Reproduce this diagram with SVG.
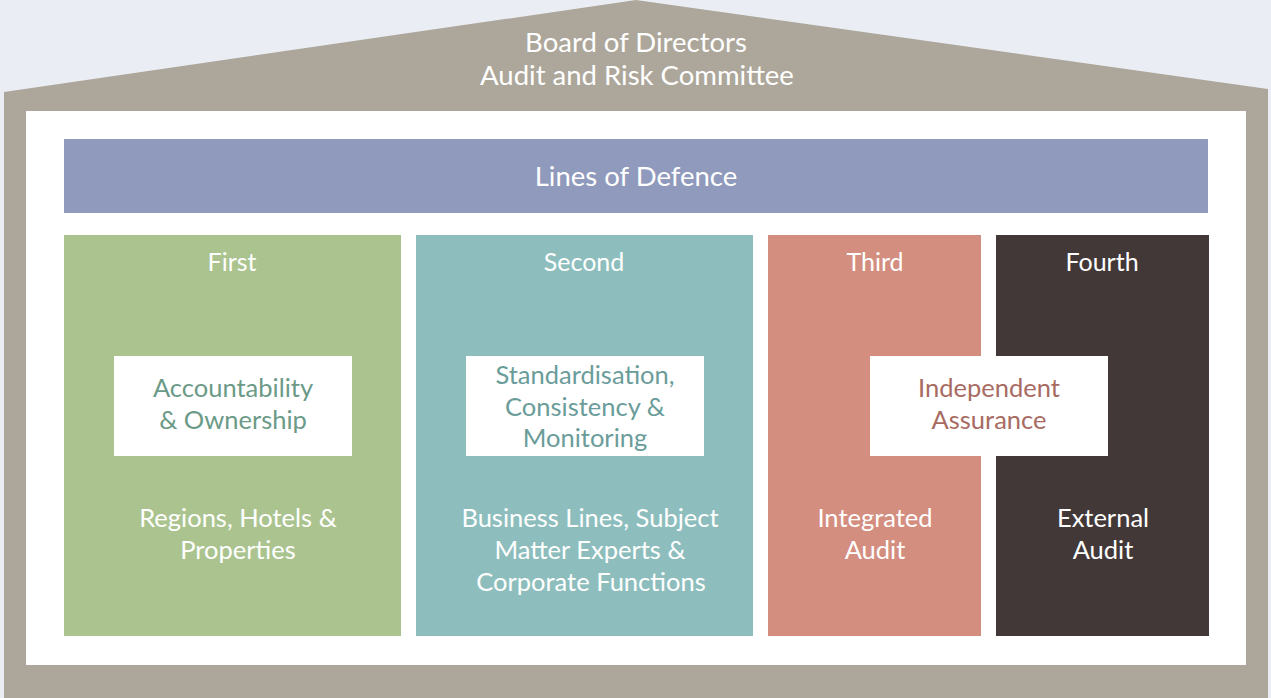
<svg xmlns="http://www.w3.org/2000/svg" width="1271" height="698" viewBox="0 0 1271 698">
  <style>
    text { font-family: Lato, "Liberation Sans", sans-serif; font-size: 25.5px; text-anchor: middle; }
    .title { font-size: 27.5px; }
    .head { font-size: 25px; }
    .light { fill: #ffffff; }
    .green { fill: #6b9a87; }
    .teal { fill: #6a9c9a; }
    .rose { fill: #a86b62; }
    .card { fill: #ffffff; }
  </style>
  <rect width="1271" height="698" fill="#eaeef4"/>

  <!-- House outline: roof and walls -->
  <g id="house">
    <polygon points="4,92 636,0 1268,89 1268,698 4,698" fill="#ada79b"/>
    <rect x="26" y="111" width="1220" height="554" fill="#ffffff"/>
    <text class="light title" x="636" y="52">Board of Directors</text>
    <text class="light title" x="637" y="85">Audit and Risk Committee</text>
  </g>

  <g id="lines-of-defence">
    <rect x="64" y="139" width="1144" height="74" fill="#8f9abc"/>
    <text class="light title" x="636" y="186">Lines of Defence</text>
  </g>

  <g id="first">
    <rect x="64" y="235" width="337" height="401" fill="#abc48f"/>
    <text class="light head" x="232" y="271">First</text>
    <text class="light" x="238" y="527">Regions, Hotels &amp;</text>
    <text class="light" x="238" y="559">Properties</text>
  </g>

  <g id="second">
    <rect x="416" y="235" width="337" height="401" fill="#8dbebd"/>
    <text class="light head" x="584" y="271">Second</text>
    <text class="light" x="590" y="527">Business Lines, Subject</text>
    <text class="light" x="590" y="559">Matter Experts &amp;</text>
    <text class="light" x="591" y="591">Corporate Functions</text>
  </g>

  <g id="third">
    <rect x="768" y="235" width="213" height="401" fill="#d48e7f"/>
    <text class="light head" x="875" y="271">Third</text>
    <text class="light" x="875" y="527">Integrated</text>
    <text class="light" x="875" y="559">Audit</text>
  </g>

  <g id="fourth">
    <rect x="996" y="235" width="213" height="401" fill="#433838"/>
    <text class="light head" x="1102" y="271">Fourth</text>
    <text class="light" x="1103" y="527">External</text>
    <text class="light" x="1103" y="559">Audit</text>
  </g>

  <g id="accountability">
    <rect class="card" x="114" y="356" width="238" height="100"/>
    <text class="green" x="233" y="397">Accountability</text>
    <text class="green" x="233" y="429">&amp; Ownership</text>
  </g>

  <g id="standardisation">
    <rect class="card" x="466" y="356" width="238" height="100"/>
    <text class="teal" x="585" y="384">Standardisation,</text>
    <text class="teal" x="585" y="416">Consistency &amp;</text>
    <text class="teal" x="585" y="447">Monitoring</text>
  </g>

  <g id="independent-assurance">
    <rect class="card" x="870" y="356" width="238" height="100"/>
    <text class="rose" x="989" y="397">Independent</text>
    <text class="rose" x="989" y="429">Assurance</text>
  </g>

  <g id="connectors"/>
</svg>
